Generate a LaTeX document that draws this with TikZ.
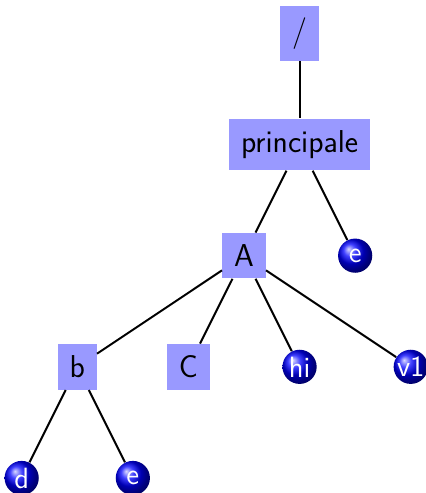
\documentclass[tikz,border=0pt]{standalone}
\usepackage{tikz}

\begin{document}
\begin{tikzpicture}[
        caixa/.style={fill=blue!40, inner sep=.6em, font=\fontsize{16.2}{19}\sffamily},
        bola/.style={circle, ball color=blue, text=white, inner sep=0pt, minimum size=17.5pt, font=\fontsize{15}{18}\sffamily},
        ramo/.style={line width=1pt}]
        \useasboundingbox (-4.39,-4.27) rectangle (3.26,4.6);
        % Raiz
        \node[caixa] (raiz) at (1,4) {/};
        % Nivel 1
        \node[caixa] (principale) at (1,2) {principale};
        % Nivel 2
        \node[caixa] (A) at (0,0) {A};
        \node[bola] (e1) at (2,0) {e};
        % Nivel 3
        \node[caixa] (b) at (-3,-2) {b};
        \node[caixa] (C) at (-1,-2) {C};
        \node[bola] (hi) at (1,-2) {hi};
        \node[bola] (v1) at (3,-2) {v1};
        % Nivel 4
        \node[bola] (d) at (-4,-4) {d};
        \node[bola] (e2) at (-2,-4) {e};
        % Ramos
        \draw[ramo] (raiz) -- (principale);
        \draw[ramo] (principale) -- (A);
        \draw[ramo] (principale) -- (e1);
        \draw[ramo] (A) -- (b);
        \draw[ramo] (A) -- (C);
        \draw[ramo] (A) -- (hi);
        \draw[ramo] (A) -- (v1);
        \draw[ramo] (b) -- (d);
        \draw[ramo] (b) -- (e2);
    \end{tikzpicture}
\end{document}
